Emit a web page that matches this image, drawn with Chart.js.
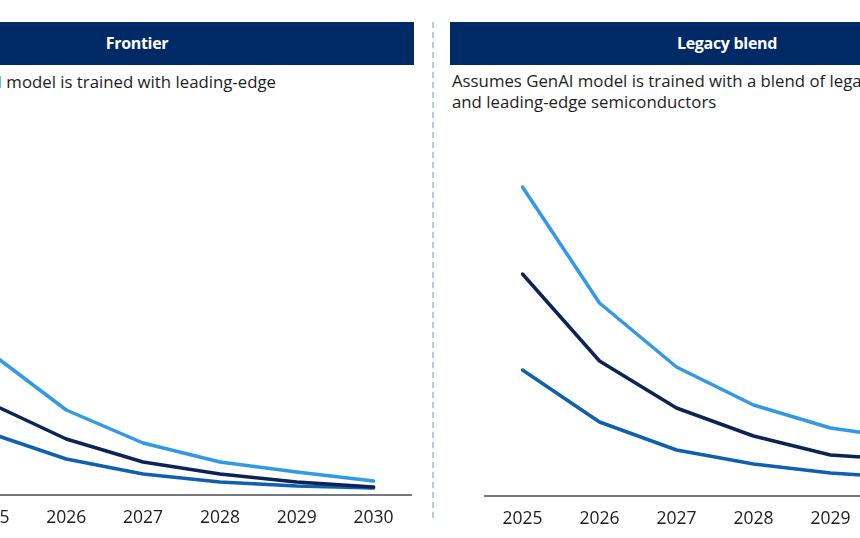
<!DOCTYPE html>
<html>
<head>
<meta charset="utf-8">
<script src="https://cdn.jsdelivr.net/npm/chart.js@4"></script>
<style>
  html, body { margin: 0; padding: 0; background: #fff; }
  body { width: 860px; height: 538px; overflow: hidden; position: relative; font-family: "Open Sans", sans-serif; }
  .bar { position: absolute; top: 22px; height: 43px; width: 554px; background: #002a66; color: #fff;
         font-weight: 700; font-size: 16px; line-height: 43px; text-align: center; letter-spacing: -0.3px; }
  .sub { position: absolute; font-size: 16.8px; line-height: 21px; color: #1d1d1d; white-space: nowrap; }
  .divider { position: absolute; left: 432px; top: 22px; width: 2px; height: 500px;
             background: repeating-linear-gradient(to bottom, #a9d0e8 0 6px, transparent 6px 10px); }
  .panel { position: absolute; }
</style>
</head>
<body>
<div class="bar" style="left:-140px;">Frontier</div>
<div class="bar" style="left:450px;">Legacy blend</div>
<div class="sub" style="right:584px; top:71px;">Assumes GenAI model is trained with leading-edge</div>
<div class="sub" style="left:452px; top:70px;">Assumes GenAI model is trained with a blend of legacy<br>and leading-edge semiconductors</div>
<div class="divider"></div>
<div class="panel" style="left:-49px; top:120px; width:461px; height:422px;"><canvas id="frontierChart"></canvas></div>
<div class="panel" style="left:484px; top:121px; width:462px; height:422px;"><canvas id="legacyChart"></canvas></div>
<script>
// Years on the x axis
const years = ['2025', '2026', '2027', '2028', '2029', '2030'];

// Frontier scenario (relative index)
const frontierHigh = [143, 85, 52, 33, 23, 14];
const frontierMid = [92, 56, 33, 21, 13, 8];
const frontierLow = [62, 36, 21, 13, 9, 7];

// Legacy blend scenario
const legacyHigh = [309, 193, 129, 91, 68, 57];
const legacyMid = [222, 135, 88, 60, 41, 36];
const legacyLow = [126, 74, 46, 32, 23, 18];

const lightBlue = '#3399e6';
const navy = '#0c2356';
const midBlue = '#1060b0';

function makeChart(id, high, mid, low) {
    const ctx = document.getElementById(id).getContext('2d');
    return new Chart(ctx, {
        type: 'line',
        data: {
            labels: years,
            datasets: [
                { data: high, borderColor: lightBlue },
                { data: mid, borderColor: navy },
                { data: low, borderColor: midBlue }
            ]
        },
        options: {
            responsive: true,
            maintainAspectRatio: false,
            animation: false,
            layout: { padding: 0 },
            elements: {
                line: { borderWidth: 3.5, tension: 0, borderCapStyle: 'round', borderJoinStyle: 'round' },
                point: { radius: 0 }
            },
            plugins: { legend: { display: false }, tooltip: { enabled: false } },
            scales: {
                x: {
                    offset: true,
                    grid: { display: false, drawTicks: false },
                    border: { display: true, color: '#77787b', width: 2 },
                    ticks: { padding: 13, color: '#1d1d1d', font: { family: 'Open Sans', size: 17.5 } }
                },
                y: {
                    display: false,
                    min: 0,
                    max: 375
                }
            }
        }
    });
}

makeChart('frontierChart', frontierHigh, frontierMid, frontierLow);
makeChart('legacyChart', legacyHigh, legacyMid, legacyLow);
</script>
</body>
</html>
